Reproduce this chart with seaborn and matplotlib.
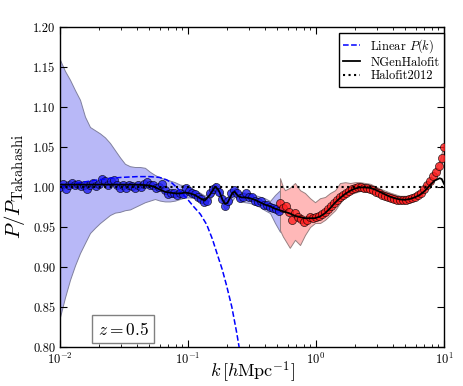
import numpy as np
import matplotlib
matplotlib.use("Agg")
import matplotlib.pyplot as plt
import seaborn as sns

# ---------------- data ----------------
k_blue = [0.0100, 0.01055, 0.01114, 0.01176, 0.01241, 0.01310, 0.01382, 0.01459, 0.01540, 0.01625,
          0.01715, 0.01810, 0.01911, 0.02017, 0.02129, 0.02247, 0.02371, 0.02503, 0.02642, 0.02788,
          0.02943, 0.03106, 0.03278, 0.03460, 0.03652, 0.03855, 0.04068, 0.04294, 0.04532, 0.04783,
          0.05048, 0.05328, 0.05623, 0.05935, 0.06264, 0.06611, 0.06978, 0.07365, 0.07773, 0.08204,
          0.08660, 0.09140, 0.09647, 0.1018, 0.1075, 0.1134, 0.1197, 0.1264, 0.1334, 0.1408,
          0.1486, 0.1568, 0.1655, 0.1747, 0.1844, 0.1946, 0.2054, 0.2168, 0.2288, 0.2415,
          0.2549, 0.2690, 0.2839, 0.2997, 0.3162, 0.3338, 0.3523, 0.3718, 0.3924, 0.4142,
          0.4371, 0.4614, 0.4870, 0.5140]
r_blue = [1.000, 1.004, 0.998, 1.003, 1.005, 1.002, 1.004, 1.001, 1.003, 0.998,
          1.003, 1.005, 1.001, 1.004, 1.010, 1.008, 1.002, 1.007, 1.009, 1.003,
          0.999, 1.002, 0.999, 1.003, 1.001, 0.999, 1.002, 1.000, 1.004, 1.006,
          1.002, 1.003, 0.999, 1.000, 1.004, 0.996, 0.991, 0.993, 0.992, 0.990,
          0.993, 0.991, 0.999, 0.995, 0.993, 0.991, 0.987, 0.985, 0.981, 0.983,
          0.992, 0.998, 1.000, 0.994, 0.985, 0.976, 0.982, 0.992, 0.996, 0.993,
          0.986, 0.988, 0.993, 0.988, 0.987, 0.983, 0.981, 0.982, 0.978, 0.977,
          0.975, 0.974, 0.972, 0.970]

k_red = [0.523, 0.552, 0.583, 0.615, 0.649, 0.685, 0.723, 0.763, 0.806, 0.850,
         0.898, 0.947, 1.000, 1.055, 1.114, 1.176, 1.241, 1.310, 1.382, 1.459,
         1.540, 1.625, 1.715, 1.811, 1.911, 2.017, 2.129, 2.247, 2.371, 2.503,
         2.642, 2.788, 2.943, 3.106, 3.278, 3.460, 3.652, 3.855, 4.068, 4.294,
         4.532, 4.783, 5.048, 5.328, 5.623, 5.935, 6.264, 6.611, 6.978, 7.365,
         7.773, 8.204, 8.660, 9.140, 9.647, 10.0]
r_red = [0.980, 0.974, 0.976, 0.969, 0.959, 0.968, 0.963, 0.960, 0.956, 0.959,
         0.962, 0.961, 0.963, 0.964, 0.966, 0.969, 0.972, 0.976, 0.980, 0.984,
         0.988, 0.990, 0.993, 0.995, 0.997, 0.999, 1.000, 1.000, 0.999, 0.999,
         0.998, 0.996, 0.994, 0.992, 0.990, 0.989, 0.987, 0.986, 0.985, 0.984,
         0.984, 0.984, 0.984, 0.985, 0.986, 0.988, 0.990, 0.993, 0.997, 1.002,
         1.008, 1.014, 1.019, 1.026, 1.036, 1.050]

k_band_blue = [0.0100, 0.01094, 0.01197, 0.01310, 0.01433, 0.01567, 0.01715, 0.01876, 0.02053, 0.02246,
               0.02457, 0.02688, 0.02941, 0.03217, 0.0352, 0.0385, 0.04213, 0.04609, 0.05042, 0.05516,
               0.06035, 0.06602, 0.07223, 0.07902, 0.08645, 0.09458, 0.1035, 0.1132, 0.1238, 0.1355,
               0.1482, 0.1621, 0.1774, 0.1941, 0.2123, 0.2323, 0.2541, 0.278, 0.3041, 0.3327,
               0.364, 0.3982, 0.4371, 0.4783, 0.5233]
up_band_blue = [1.159, 1.145, 1.134, 1.121, 1.109, 1.088, 1.075, 1.071, 1.067, 1.062,
                1.055, 1.046, 1.037, 1.029, 1.026, 1.025, 1.025, 1.024, 1.019, 1.015,
                1.012, 1.010, 1.008, 1.006, 1.003, 1.002, 0.998, 0.996, 0.993, 0.989,
                0.996, 1.005, 0.999, 0.985, 0.991, 0.999, 0.994, 0.993, 0.992, 0.990,
                0.988, 0.986, 0.9825, 0.990, 0.996]
lo_band_blue = [0.8375, 0.862, 0.884, 0.902, 0.9175, 0.930, 0.9425, 0.949, 0.955, 0.960,
                0.965, 0.968, 0.969, 0.971, 0.972, 0.975, 0.978, 0.981, 0.983, 0.985,
                0.983, 0.982, 0.982, 0.983, 0.985, 0.987, 0.987, 0.986, 0.982, 0.978,
                0.984, 0.994, 0.987, 0.972, 0.979, 0.988, 0.982, 0.981, 0.980, 0.978,
                0.975, 0.971, 0.9675, 0.955, 0.944]

k_band_red = [0.523, 0.552, 0.572, 0.624, 0.685, 0.750, 0.820, 0.898, 0.982, 1.075,
              1.176, 1.288, 1.41, 1.54, 1.69, 1.85, 2.02, 2.21, 2.65, 3.16,
              3.78, 4.53, 5.43, 6.49, 7.77, 9.30, 10.0]
up_band_red = [1.011, 1.000, 0.996, 0.999, 1.005, 0.996, 0.9925, 0.986, 0.981, 0.986,
               0.9875, 0.9925, 0.996, 1.005, 1.006, 1.005, 1.006, 1.006, 1.004, 0.998,
               0.993, 0.989, 0.989, 0.996, 1.012, 1.034, 1.055]
lo_band_red = [0.946, 0.938, 0.934, 0.924, 0.934, 0.9275, 0.940, 0.950, 0.955, 0.955,
               0.959, 0.965, 0.971, 0.980, 0.9875, 0.991, 0.993, 0.995, 0.994, 0.988,
               0.983, 0.980, 0.981, 0.989, 1.004, 1.020, 1.040]

k_lin = [0.010, 0.012, 0.015, 0.020, 0.025, 0.030, 0.040, 0.050, 0.060, 0.068,
         0.075, 0.082, 0.090, 0.100, 0.110, 0.125, 0.140, 0.155, 0.170, 0.185,
         0.200, 0.220, 0.240, 0.260, 0.300]
r_lin = [1.000, 1.003, 1.006, 1.009, 1.011, 1.012, 1.013, 1.013, 1.012, 1.009,
         1.005, 0.999, 0.992, 0.984, 0.976, 0.966, 0.953, 0.935, 0.915, 0.897,
         0.877, 0.850, 0.818, 0.785, 0.720]

k_ngen = [0.010, 0.015, 0.020, 0.030, 0.040, 0.050, 0.055, 0.060, 0.066, 0.072,
          0.080, 0.087, 0.095, 0.104, 0.113, 0.124, 0.135, 0.148, 0.162, 0.170,
          0.177, 0.186, 0.194, 0.203, 0.212, 0.223, 0.232, 0.245, 0.262, 0.280,
          0.304, 0.333, 0.364, 0.398, 0.436, 0.477, 0.521, 0.570, 0.624, 0.683,
          0.747, 0.820, 0.894, 0.978, 1.070, 1.171, 1.281, 1.401, 1.533, 1.677,
          1.835, 2.007, 2.196, 2.402, 2.628, 2.875, 3.145, 3.441, 3.765, 4.119,
          4.506, 4.929, 5.393, 5.900, 6.455, 7.062, 7.725, 8.452, 9.246, 9.600, 10.0]
r_ngen = [1.003, 1.003, 1.003, 1.003, 1.003, 1.002, 1.000, 0.997, 0.994, 0.993,
          0.992, 0.992, 0.993, 0.992, 0.990, 0.986, 0.983, 0.990, 1.000, 0.998,
          0.993, 0.984, 0.979, 0.980, 0.986, 0.993, 0.994, 0.989, 0.987, 0.987,
          0.986, 0.984, 0.981, 0.978, 0.976, 0.973, 0.971, 0.969, 0.967, 0.964,
          0.9625, 0.961, 0.961, 0.961, 0.963, 0.967, 0.973, 0.980, 0.986, 0.991,
          0.995, 0.998, 0.9995, 0.9995, 0.999, 0.997, 0.994, 0.991, 0.988, 0.986,
          0.9845, 0.984, 0.985, 0.987, 0.990, 0.995, 1.002, 1.008, 1.011, 1.010, 1.004]

k_h12 = [0.01, 10.0]
r_h12 = [1.0, 1.0]

yticks = [0.80, 0.85, 0.90, 0.95, 1.00, 1.05, 1.10, 1.15, 1.20]

# ---------------- style ----------------
plt.rcParams.update({
    "font.family": "cmr10",
    "mathtext.fontset": "cm",
    "axes.formatter.use_mathtext": True,
    "axes.unicode_minus": False,
    "xtick.direction": "in",
    "ytick.direction": "in",
    "xtick.top": True,
    "ytick.right": True,
    "xtick.major.size": 5,
    "xtick.minor.size": 2.5,
    "ytick.major.size": 5,
    "ytick.minor.size": 2.5,
    "axes.linewidth": 1.0,
})

fig = plt.figure(figsize=(4.63, 3.86), dpi=100)
ax = fig.add_axes([0.1296, 0.101, 0.8294, 0.829])

ax.fill_between(k_band_blue, lo_band_blue, up_band_blue, facecolor=(0.72, 0.72, 0.97),
                edgecolor=(0.5, 0.5, 0.62), linewidth=0.7, zorder=1)
ax.fill_between(k_band_red, lo_band_red, up_band_red, facecolor=(1.0, 0.72, 0.72),
                edgecolor=(0.6, 0.5, 0.5), linewidth=0.7, zorder=1)

sns.scatterplot(x=k_blue, y=r_blue, ax=ax, color=(0.12, 0.12, 0.95), alpha=0.8,
                edgecolor="black", linewidth=0.5, s=34, zorder=3, legend=False)
sns.scatterplot(x=k_red, y=r_red, ax=ax, color=(1.0, 0.12, 0.12), alpha=0.8,
                edgecolor="black", linewidth=0.5, s=34, zorder=3, legend=False)

sns.lineplot(x=k_lin, y=r_lin, ax=ax, color="blue", linestyle="--", linewidth=1.1,
             label=r"Linear $P(k)$", zorder=4, sort=False)
sns.lineplot(x=k_ngen, y=r_ngen, ax=ax, color="black", linewidth=1.3,
             label="NGenHalofit", zorder=5, sort=False)
sns.lineplot(x=k_h12, y=r_h12, ax=ax, color="black", linestyle=":", linewidth=1.5,
             label="Halofit2012", zorder=6, sort=False)

ax.set_xscale("log")
ax.set_xlim(0.01, 10)
ax.set_ylim(0.80, 1.20)
ax.set_yticks(yticks)
ax.set_yticklabels([f"{v:.2f}" for v in yticks])
ax.tick_params(labelsize=9)

ax.set_xlabel(r"$k\,[h\mathrm{Mpc}^{-1}]$", fontsize=13, labelpad=-5)
ax.set_ylabel(r"$P/P_{\mathrm{Takahashi}}$", fontsize=15, labelpad=4)

leg = ax.legend(loc="upper right", bbox_to_anchor=(1.0, 0.982), borderaxespad=0.0,
                fontsize=9, fancybox=False, framealpha=1.0, handlelength=1.4,
                labelspacing=0.12, handletextpad=0.8, borderpad=0.35)
leg.get_frame().set_edgecolor("black")
leg.get_frame().set_linewidth(1.0)

ax.text(0.164, 0.056, r"$z=0.5$", transform=ax.transAxes, fontsize=12.5,
        va="center", ha="center",
        bbox=dict(boxstyle="square,pad=0.3", facecolor="white", edgecolor="0.5", linewidth=1.0))

fig.savefig("out.png", dpi=100)
